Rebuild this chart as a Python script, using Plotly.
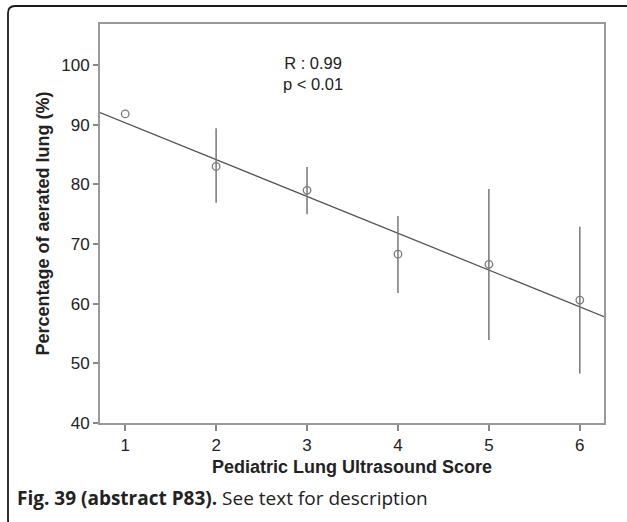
import numpy as np
import plotly.graph_objects as go

# ---- data ----
score = [1, 2, 3, 4, 5, 6]
mean_pct = [91.8, 83.0, 79.0, 68.3, 66.6, 60.6]
ci_upper = [91.8, 89.4, 82.9, 74.7, 79.2, 72.9]
ci_lower = [91.8, 76.9, 75.0, 61.8, 53.9, 48.3]
x_ticks = [1, 2, 3, 4, 5, 6]
y_ticks = [40, 50, 60, 70, 80, 90, 100]
stat_lines = ["R : 0.99", "p < 0.01"]

x_range = [0.723, 6.266]
y_range = [40, 106.87]

err_plus = [u - m for u, m in zip(ci_upper, mean_pct)]
err_minus = [m - l for m, l in zip(mean_pct, ci_lower)]

slope, intercept = np.polyfit(score, mean_pct, 1)
fit_x = x_range
fit_y = [intercept + slope * v for v in fit_x]

W, H = 627, 522
ml, mr, mt, mb = 100, W - 604, 24, H - 423
pw, ph = W - ml - mr, H - mt - mb


def px(x):
    return (x - ml) / pw


def py(y):
    return (H - mb - y) / ph


fig = go.Figure()
fig.add_trace(go.Scatter(
    x=fit_x, y=fit_y, mode="lines",
    line=dict(color="#555555", width=1.3),
    hoverinfo="skip", showlegend=False, cliponaxis=True,
))
fig.add_trace(go.Scatter(
    x=score, y=mean_pct, mode="markers",
    marker=dict(symbol="circle-open", size=7.5, color="#7a7a7a", line=dict(width=1.3)),
    error_y=dict(type="data", symmetric=False, array=err_plus, arrayminus=err_minus,
                 color="#777777", thickness=1.5, width=0),
    showlegend=False,
))

tick_font = dict(family="Liberation Sans, Arial", size=17, color="#222")
title_font = dict(family="Liberation Sans, Arial", size=18, color="#222")
fig.update_xaxes(
    range=x_range, tickvals=x_ticks, ticks="outside", ticklen=6, tickwidth=1.5,
    tickcolor="#888", showgrid=False, zeroline=False, showline=True, linecolor="#999",
    linewidth=2, mirror=True, tickfont=tick_font,
    title=dict(text="<b>Pediatric Lung Ultrasound Score</b>", font=title_font, standoff=6),
)
fig.update_yaxes(
    range=y_range, tickvals=y_ticks, ticks="outside", ticklen=5, tickwidth=1.5,
    tickcolor="#888", showgrid=False, zeroline=False, showline=True, linecolor="#999",
    linewidth=2, mirror=True, tickfont=tick_font,
    title=dict(text="<b>Percentage of aerated lung (%)</b>", font=title_font, standoff=7),
)

# statistic annotation (two lines in one text)
fig.add_annotation(
    x=px(313), y=py(73.5), xref="paper", yref="paper", text="<br>".join(stat_lines),
    showarrow=False, font=dict(family="Liberation Sans, Arial", size=16.5, color="#222"),
    xanchor="center", yanchor="middle", align="center",
)

# caption
fig.add_annotation(
    x=px(15), y=py(498), xref="paper", yref="paper",
    text="<b>Fig. 39 (abstract P83).</b> See text for description",
    showarrow=False, xanchor="left", yanchor="middle",
    font=dict(family="Open Sans", size=19, color="#222"),
)

# card border (rounded frame)
L, T, R, B, r = 8, 6, 660, 527, 7
path = (
    f"M {px(R)},{py(T)} L {px(L + r)},{py(T)} "
    f"Q {px(L)},{py(T)} {px(L)},{py(T + r)} "
    f"L {px(L)},{py(B - r)} Q {px(L)},{py(B)} {px(L + r)},{py(B)} L {px(R)},{py(B)}"
)
fig.add_shape(type="path", path=path, xref="paper", yref="paper",
              line=dict(color="#1a1a1a", width=1.8))

fig.update_layout(
    width=W, height=H, margin=dict(l=ml, r=mr, t=mt, b=mb, autoexpand=False),
    paper_bgcolor="white", plot_bgcolor="white",
)

fig.write_html("out.html", config={"displayModeBar": False},
               post_script="document.body.style.margin='0';")
